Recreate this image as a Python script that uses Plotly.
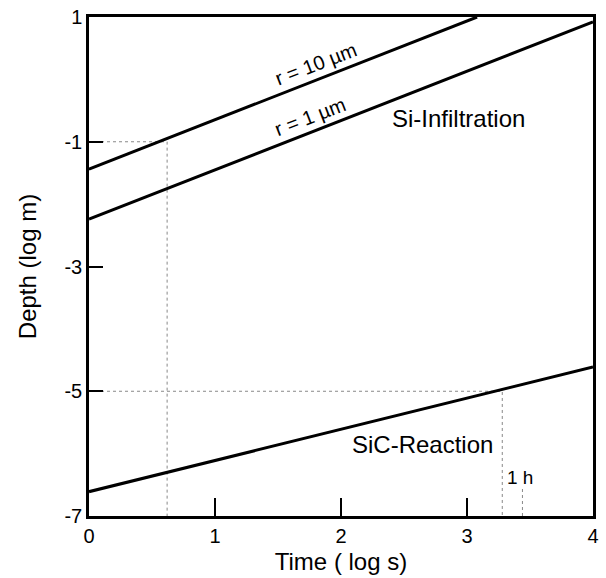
import plotly.graph_objects as go

# Data (log s vs log m)
time_r10 = [0.0, 3.08]
depth_r10 = [-1.44, 1.0]
time_r1 = [0.0, 4.0]
depth_r1 = [-2.24, 0.92]
time_sic = [0.0, 4.0]
depth_sic = [-6.61, -4.61]

# Dotted guide lines
guide1_x = [0.0, 0.62, 0.62]
guide1_y = [-1.0, -1.0, -7.0]
guide2_x = [0.0, 3.28, 3.28]
guide2_y = [-5.0, -5.0, -7.0]
hour_x = [3.44, 3.44]
hour_y = [-7.0, -6.55]

x_ticks = [0, 1, 2, 3, 4]
y_ticks = [1, -1, -3, -5, -7]

fig = go.Figure()
for gx, gy in [(guide1_x, guide1_y), (guide2_x, guide2_y), (hour_x, hour_y)]:
    fig.add_trace(go.Scatter(x=gx, y=gy, mode="lines",
                             line=dict(color="#888888", width=1, dash="dot"),
                             showlegend=False, hoverinfo="skip"))
for tx, ty in [(time_r10, depth_r10), (time_r1, depth_r1), (time_sic, depth_sic)]:
    fig.add_trace(go.Scatter(x=tx, y=ty, mode="lines",
                             line=dict(color="black", width=3),
                             showlegend=False))

font_main = "Liberation Sans, Arial, sans-serif"
annots = [
    dict(x=1.80, y=0.25, text="r = 10 µm", textangle=-21, size=20),
    dict(x=1.75, y=-0.60, text="r = 1 µm", textangle=-21, size=20),
    dict(x=2.93, y=-0.62, text="Si-Infiltration", textangle=0, size=24),
    dict(x=2.65, y=-5.86, text="SiC-Reaction", textangle=0, size=24),
    dict(x=3.42, y=-6.39, text="1 h", textangle=0, size=19),
]
for a in annots:
    fig.add_annotation(x=a["x"], y=a["y"], text=a["text"], textangle=a["textangle"],
                       showarrow=False, font=dict(size=a["size"], color="black", family=font_main))

fig.update_layout(
    width=606, height=578,
    margin=dict(l=89, r=13, t=17, b=62),
    paper_bgcolor="white", plot_bgcolor="white",
    font=dict(family=font_main, color="black", size=20),
    xaxis=dict(range=[0, 4], tickvals=x_ticks, ticktext=[str(v) for v in x_ticks],
               showgrid=False, zeroline=False, showline=True, linecolor="black",
               linewidth=2.5, mirror=True, ticks="inside", ticklen=18, tickwidth=2,
               tickcolor="black", tickfont=dict(size=20), automargin=False,
               title=dict(text="Time ( log s)", font=dict(size=24), standoff=8)),
    yaxis=dict(range=[-7, 1], tickvals=y_ticks, ticktext=[str(v) for v in y_ticks],
               showgrid=False, zeroline=False, showline=True, linecolor="black",
               linewidth=2.5, mirror=True, ticks="inside", ticklen=14, tickwidth=2,
               tickcolor="black", tickfont=dict(size=20), automargin=False,
               title=dict(text="Depth (log m)", font=dict(size=24), standoff=22)),
)

fig.write_html("out.html")
